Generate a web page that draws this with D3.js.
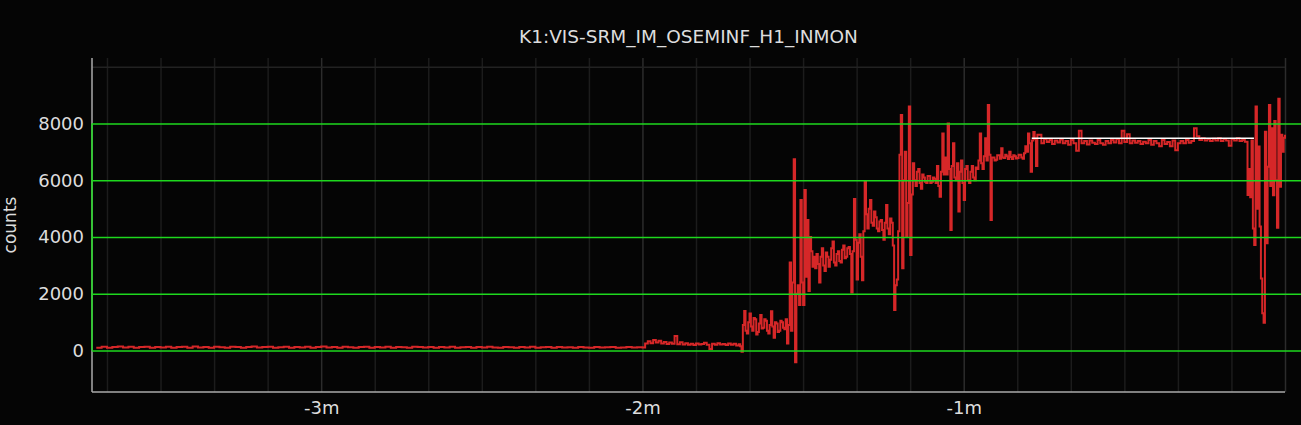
<!DOCTYPE html>
<html>
<head>
<meta charset="utf-8">
<script src="https://cdn.jsdelivr.net/npm/d3@7"></script>
<style>
  html, body { margin: 0; padding: 0; background: #050505; }
  svg { display: block; }
</style>
</head>
<body>
<svg id="chart" width="1301" height="425"></svg>
<script>
(function(){
const width = 1301;
const height = 425;

// --- Data ---
const title = "K1:VIS-SRM_IM_OSEMINF_H1_INMON";
const yLabel = "counts";

// seconds before now
const timeDomain = [-222.8, 0];
const countDomain = [-1462, 10308];

const majorTicks = [-180, -120, -60, 0];
const minorTicks = [-220, -210, -200, -190, -170, -160, -150, -140, -130,
  -110, -100, -90, -80, -70, -50, -40, -30, -20, -10];
const yTicks = [0, 2000, 4000, 6000, 8000];
const yFaintTicks = [10000];

// quiet part, 1 s samples from -222 s
const quietStart = -222, quietStep = 1;
const quietCounts = [
  95,130,100,125,140,105,130,95,120,135,100,125,110,135,95,120,130,100,140,110,
  125,95,130,115,100,135,120,95,125,140,105,120,130,100,115,135,95,125,110,130,
  100,120,140,105,125,95,130,115,100,125,135,100,120,110,130,95,125,115,100,130,
  120,105,125,95,120,110,130,100,115,125,95,120,105,130,110,100,125,115,95,120,
  110,130,100,115,125,95,120,105,115,100,125,110,95,120,105,115,125,100,110,120,
  105,115
];

// first rise, 0.5 s samples from -120 s
const riseStart = -120, riseStep = 0.5;
const riseCounts = [
  110,250,330,260,370,280,340,250,300,230,
  280,240,510,220,290,210,260,200,240,190,
  250,210,230,270,200,50,240,200,260,210,
  230,190,250,200,240,180
];

// burst, 0.25 s samples from -102 s
const burstStart = -102, burstStep = 0.25;
const burstCounts = [
  220,150, -40,900, 1390,700, 600,1000, 1300,850, 700,1150, 1100,560, 650,950,
  1250,780, 800,1100, 1050,700, 600,900, 1380,850, 450,1000, 950,650, 700,1050,
  1000,800, 750,1100, 250,900, 3100,700, 2400,6740, -415,2000, 2300,1600, 5300,2400,
  1600,5660, 2600,4600, 2100,4000, 3500,2950, 3300,2900, 3400,3050, 2400,3300, 3600,3000,
  2800,3450, 3300,2950, 3200,3600, 3840,3100, 3000,3400, 3500,3150, 3100,3550, 3700,3250,
  3300,3600, 3650,3400, 2040,3500, 5340,3900, 2500,3800, 4100,3300, 2480,4200, 5950,4800,
  4300,5000, 5300,4500, 4400,4900, 4700,4300, 4200,4550, 4600,4250, 3900,4500, 5130,4300,
  4100,4650, 4500,3700, 1430,2300, 2500,4200, 6900,8300, 2900,6000, 7000,4000, 5200,8600,
  3370,5500, 6600,6000, 5800,6300, 6400,5900, 5700,6200, 6100,5950, 5900,6150, 6150,5900,
  5950,6100, 6050,5900, 6500,5800, 5420,6300, 7650,6200, 6800,6200, 8000,6400, 4250,6500,
  7300,6100, 6000,6600, 4900,6300, 6700,5900, 5300,6400, 6500,6000, 5900,6300, 6500,6100,
  6000,6450, 6400,6700, 7650,6600, 6400,6850, 7480,6700, 8650,6900, 4600,6800, 6800,6700,
  6720,6880, 6880,6760, 7125,6800, 6780,6900, 6850,6750, 7000,6820, 6750,6880, 6850,6770,
  6780,6900, 6900,6800, 6760,6950, 7200,7000, 7650,7300, 6300,7400, 7700,7450, 6500,7600
];

// plateau, 0.5 s samples from -46 s
const plateauStart = -46, plateauStep = 0.5;
const plateauCounts = [
  7600,7300,7450,7350,7420,7280,7400,7330,7440,7300,
  7380,7250,7420,7300,7040,7740,7300,7380,7260,7400,
  7320,7280,7420,7300,7250,7380,7300,7420,7330,7450,
  7300,7740,7350,7620,7300,7400,7320,7380,7280,7360,
  7300,7420,7250,7380,7300,7200,7420,7280,7350,7200,
  7400,7060,7300,7380,7300,7420,7320,7380,7830,7550,
  7420,7480,7400,7450,7380,7460,7400,7480,7380,7450,
  7400,7220,7450,7400,7480,7380,7420,7360
];

// last seconds, 0.25 s samples from -7 s
const tailStart = -7, tailStep = 0.25;
const tailCounts = [
  5480,6400,5400,7400,4300,3720,8600,5000,7185,4370,
  2540,1310,980,7710,3780,6480,8650,5800,7830,5470,
  8090,6000,4330,8870,5775,7600,7000,7500,7600
];

// white reference level
const refStart = -47.3, refEnd = -5.8, refValue = 7480;

function samples(start, step, values) {
  return values.map((v, i) => ({ t: start + i * step, v: v }));
}

const points = [].concat(
  samples(quietStart, quietStep, quietCounts),
  samples(riseStart, riseStep, riseCounts),
  samples(burstStart, burstStep, burstCounts),
  samples(plateauStart, plateauStep, plateauCounts),
  samples(tailStart, tailStep, tailCounts)
);

// --- Layout ---
const margin = { top: 58, right: 16, bottom: 33, left: 92 };
const plotRight = 1285;
const plotBottom = height - margin.bottom;

const x = d3.scaleLinear().domain(timeDomain).range([margin.left, plotRight]);
const y = d3.scaleLinear().domain(countDomain).range([plotBottom, margin.top]);

const svg = d3.select("#chart");
const font = "'DejaVu Sans', sans-serif";

svg.append("rect")
  .attr("width", width)
  .attr("height", height)
  .attr("fill", "#050505");

// --- Grid ---
const minorGrid = svg.append("g")
  .attr("transform", `translate(0,${plotBottom})`)
  .call(d3.axisBottom(x).tickValues(minorTicks).tickSize(-(plotBottom - margin.top)).tickFormat(""));
minorGrid.select(".domain").remove();
minorGrid.selectAll("line").attr("stroke", "#1c1c1c").attr("stroke-width", 1.5);

const majorGrid = svg.append("g")
  .attr("transform", `translate(0,${plotBottom})`)
  .call(d3.axisBottom(x).tickValues(majorTicks).tickSize(-(plotBottom - margin.top)).tickFormat(""));
majorGrid.select(".domain").remove();
majorGrid.selectAll("line").attr("stroke", "#2c2c2c").attr("stroke-width", 1.5);

const faintGrid = svg.append("g")
  .attr("transform", `translate(${margin.left},0)`)
  .call(d3.axisLeft(y).tickValues(yFaintTicks).tickSize(-(plotRight - margin.left)).tickFormat(""));
faintGrid.select(".domain").remove();
faintGrid.selectAll("line").attr("stroke", "#222").attr("stroke-width", 1.5);

// --- Axes lines ---
svg.append("line")
  .attr("x1", margin.left).attr("x2", margin.left)
  .attr("y1", margin.top).attr("y2", plotBottom)
  .attr("stroke", "#aaa").attr("stroke-width", 1.5);
svg.append("line")
  .attr("x1", margin.left).attr("x2", plotRight)
  .attr("y1", plotBottom).attr("y2", plotBottom)
  .attr("stroke", "#aaa").attr("stroke-width", 1.5);

// --- Data line ---
const line = d3.line()
  .x(d => x(d.t))
  .y(d => y(d.v))
  .curve(d3.curveStepAfter);

svg.append("path")
  .datum(points)
  .attr("fill", "none")
  .attr("stroke", "#d62728")
  .attr("stroke-width", 2)
  .attr("d", line);

// --- Green level lines ---
const levelGrid = svg.append("g")
  .attr("transform", `translate(${margin.left},0)`)
  .call(d3.axisLeft(y).tickValues(yTicks).tickSize(-(width - margin.left)).tickFormat(""));
levelGrid.select(".domain").remove();
levelGrid.selectAll("line").attr("stroke", "#1ed81e").attr("stroke-width", 1.5);

svg.append("line")
  .attr("x1", margin.left).attr("x2", margin.left)
  .attr("y1", y(d3.max(yTicks))).attr("y2", y(d3.min(yTicks)))
  .attr("stroke", "#1ed81e").attr("stroke-width", 1.5);

// --- Reference line ---
svg.append("line")
  .attr("x1", x(refStart)).attr("x2", x(refEnd))
  .attr("y1", y(refValue)).attr("y2", y(refValue))
  .attr("stroke", "#fff").attr("stroke-width", 1.5);

// --- Tick labels ---
const xAxis = svg.append("g")
  .attr("transform", `translate(0,${plotBottom})`)
  .call(d3.axisBottom(x).tickValues(majorTicks.filter(d => d !== 0))
    .tickSize(0).tickPadding(9).tickFormat(d => `${d / 60}m`));
xAxis.select(".domain").remove();
xAxis.selectAll("text")
  .attr("fill", "#ddd")
  .style("font-family", font)
  .style("font-size", "18px");

const yAxis = svg.append("g")
  .attr("transform", `translate(${margin.left},0)`)
  .call(d3.axisLeft(y).tickValues(yTicks).tickSize(0).tickPadding(8).tickFormat(d3.format("d")));
yAxis.select(".domain").remove();
yAxis.selectAll("text")
  .attr("fill", "#ddd")
  .style("font-family", font)
  .style("font-size", "18px");

// --- Titles ---
svg.append("text")
  .attr("x", (margin.left + plotRight) / 2)
  .attr("y", 43)
  .attr("text-anchor", "middle")
  .attr("fill", "#ddd")
  .style("font-family", font)
  .style("font-size", "18.5px")
  .text(title);

svg.append("text")
  .attr("transform", `translate(16,${(margin.top + plotBottom) / 2}) rotate(-90)`)
  .attr("text-anchor", "middle")
  .attr("fill", "#ddd")
  .style("font-family", font)
  .style("font-size", "17px")
  .text(yLabel);
})();
</script>
</body>
</html>
